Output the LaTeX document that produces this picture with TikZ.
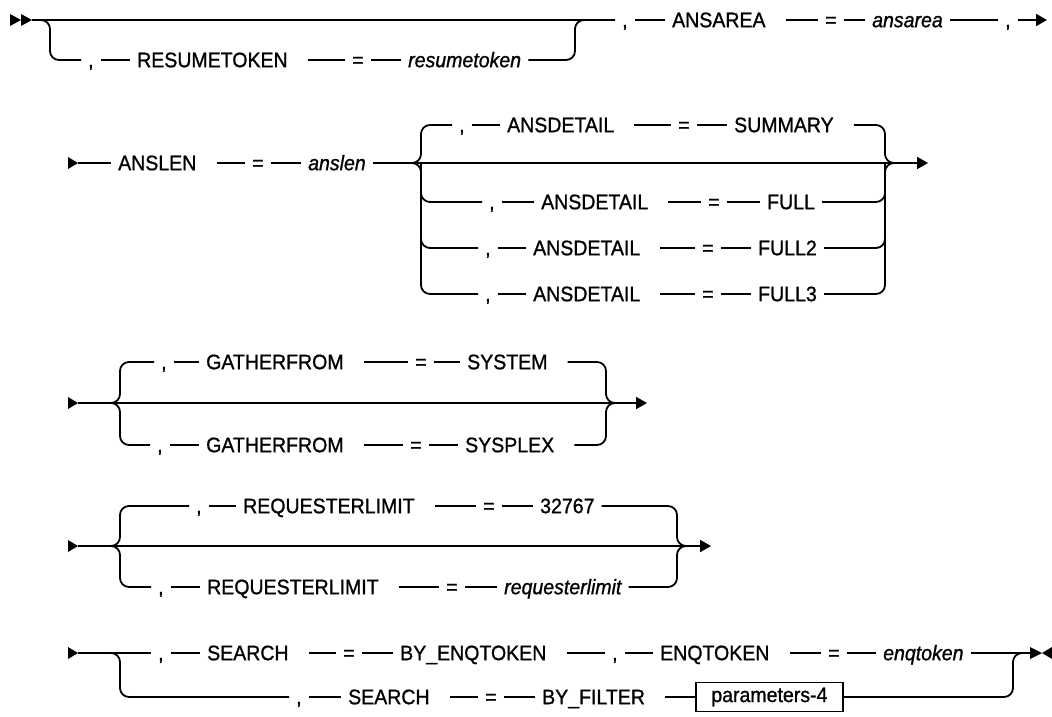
\documentclass[tikz,border=0pt]{standalone}
\usepackage{fontspec}
\setmainfont{Liberation Sans}[FakeBold=1.0,FakeStretch=0.93]
\usetikzlibrary{arrows.meta}

\tikzset{
  rail/.style={line width=1.8pt, rounded corners=9pt},
  endarrow/.style={-{Triangle[length=11pt,width=12pt]}},
  tok/.style={font=\fontsize{21}{24}\selectfont, inner xsep=7pt, inner ysep=0pt,
    text height=14.4pt, text depth=0pt, anchor=west, xshift=-7pt},
  kw/.style={tok, execute at end node={\hspace{13pt}}},
  vname/.style={tok, font=\fontsize{21}{24}\selectfont\itshape},
  parm/.style={draw, line width=1.8pt, font=\fontsize{21}{24}\selectfont, inner xsep=8pt,
    inner ysep=0pt, minimum height=29pt, minimum width=147pt, anchor=west}
}

\begin{document}
\begin{tikzpicture}[x=1pt,y=-1pt]
      \fill[white] (0,0) rectangle (1052,717);
      % row 1: resumetoken / ansarea
      \fill (10,14) -- (21,20) -- (10,26) -- cycle;
      \fill (21,14) -- (32,20) -- (21,26) -- cycle;
      \coordinate (s1) at (32,20);
      \coordinate (b1) at (50,20);
      \coordinate (m1) at (575,20);
      \coordinate (e1) at (1047,20);
      \node[tok] (rc) at (88,60) {,};
      \node[kw] (rk) at (137,60) {RESUMETOKEN};
      \node[tok] (req) at (352,60) {=};
      \node[vname] (rv) at (408,60) {resumetoken};
      \node[tok] (ac) at (622,20) {,};
      \node[kw] (ak) at (672,20) {ANSAREA};
      \node[tok] (aeq) at (825,20) {=};
      \node[vname] (av) at (872,20) {ansarea};
      \node[tok] (ac2) at (1005,20) {,};
      \draw[rail] (s1) -- (ac) -- (ak) -- (aeq) -- (av) -- (ac2);
      \draw[rail,endarrow] (ac2) -- (e1);
      \draw[rail] (s1) -- (b1) |- (rc);
      \draw[rail] (rc) -- (rk) -- (req) -- (rv);
      \draw[rail] (rv) -| (m1) -- (ac);

      % row 2: anslen / ansdetail
      \fill (68,157) -- (78,163) -- (68,169) -- cycle;
      \coordinate (s2) at (78,163);
      \coordinate (l2) at (412,163);
      \coordinate (bl2) at (421,163);
      \coordinate (br2) at (885,163);
      \coordinate (r2) at (893,163);
      \coordinate (e2) at (928,163);
      \node[kw] (lk) at (118,163) {ANSLEN};
      \node[tok] (leq) at (252,163) {=};
      \node[vname] (lv) at (308,163) {anslen};
      \node[tok] (d1c) at (459,125) {,};
      \node[kw] (d1k) at (507,125) {ANSDETAIL};
      \node[tok] (d1e) at (678,125) {=};
      \node[kw] (d1v) at (734,125) {SUMMARY};
      \node[tok] (d2c) at (489,202) {,};
      \node[kw] (d2k) at (541,202) {ANSDETAIL};
      \node[tok] (d2e) at (708,202) {=};
      \node[tok] (d2v) at (767,202) {FULL};
      \node[tok] (d3c) at (485,248) {,};
      \node[kw] (d3k) at (533,248) {ANSDETAIL};
      \node[tok] (d3e) at (702,248) {=};
      \node[tok] (d3v) at (758,248) {FULL2};
      \node[tok] (d4c) at (485,294) {,};
      \node[kw] (d4k) at (533,294) {ANSDETAIL};
      \node[tok] (d4e) at (702,294) {=};
      \node[tok] (d4v) at (758,294) {FULL3};
      \draw[rail] (s2) -- (lk) -- (leq) -- (lv) -- (l2) -- (r2);
      \draw[rail,endarrow] (r2) -- (e2);
      \draw[rail] (d1c) -- (d1k) -- (d1e) -- (d1v);
      \draw[rail] (d2c) -- (d2k) -- (d2e) -- (d2v);
      \draw[rail] (d3c) -- (d3k) -- (d3e) -- (d3v);
      \draw[rail] (d4c) -- (d4k) -- (d4e) -- (d4v);
      \draw[rail] (d1c) -| (bl2) -- (l2);
      \draw[rail] (d4c) -| (bl2) -- (l2);
      \draw[rail] (d2c) -| (bl2);
      \draw[rail] (d3c) -| (bl2);
      \draw[rail] (d1v) -| (br2) -- (r2);
      \draw[rail] (d4v) -| (br2) -- (r2);
      \draw[rail] (d2v) -| (br2);
      \draw[rail] (d3v) -| (br2);

      % row 3: gatherfrom
      \fill (68,397) -- (78,403) -- (68,409) -- cycle;
      \coordinate (s3) at (78,403);
      \coordinate (l3) at (112,403);
      \coordinate (bl3) at (120,403);
      \coordinate (br3) at (606,403);
      \coordinate (r3) at (614,403);
      \coordinate (e3) at (647,403);
      \node[tok] (g1c) at (161,362) {,};
      \node[kw] (g1k) at (206,362) {GATHERFROM};
      \node[tok] (g1e) at (415,362) {=};
      \node[kw] (g1v) at (467,362) {SYSTEM};
      \node[tok] (g2c) at (157,445) {,};
      \node[kw] (g2k) at (206,445) {GATHERFROM};
      \node[tok] (g2e) at (410,445) {=};
      \node[kw] (g2v) at (465,445) {SYSPLEX};
      \draw[rail] (s3) -- (l3) -- (r3);
      \draw[rail,endarrow] (r3) -- (e3);
      \draw[rail] (g1c) -- (g1k) -- (g1e) -- (g1v);
      \draw[rail] (g2c) -- (g2k) -- (g2e) -- (g2v);
      \draw[rail] (g1c) -| (bl3) -- (l3);
      \draw[rail] (g2c) -| (bl3) -- (l3);
      \draw[rail] (g1v) -| (br3) -- (r3);
      \draw[rail] (g2v) -| (br3) -- (r3);

      % row 4: requesterlimit
      \fill (68,540) -- (78,546) -- (68,552) -- cycle;
      \coordinate (s4) at (78,546);
      \coordinate (l4) at (112,546);
      \coordinate (bl4) at (120,546);
      \coordinate (br4) at (677,546);
      \coordinate (r4) at (685,546);
      \coordinate (e4) at (711,546);
      \node[tok] (q1c) at (196,506) {,};
      \node[kw] (q1k) at (243,506) {REQUESTERLIMIT};
      \node[tok] (q1e) at (483,506) {=};
      \node[tok] (q1v) at (540,506) {32767};
      \node[tok] (q2c) at (158,587) {,};
      \node[kw] (q2k) at (207,587) {REQUESTERLIMIT};
      \node[tok] (q2e) at (446,587) {=};
      \node[vname] (q2v) at (504,587) {requesterlimit};
      \draw[rail] (s4) -- (l4) -- (r4);
      \draw[rail,endarrow] (r4) -- (e4);
      \draw[rail] (q1c) -- (q1k) -- (q1e) -- (q1v);
      \draw[rail] (q2c) -- (q2k) -- (q2e) -- (q2v);
      \draw[rail] (q1c) -| (bl4) -- (l4);
      \draw[rail] (q2c) -| (bl4) -- (l4);
      \draw[rail] (q1v) -| (br4) -- (r4);
      \draw[rail] (q2v) -| (br4) -- (r4);

      % row 5: search
      \fill (68,647) -- (78,653) -- (68,659) -- cycle;
      \coordinate (s5) at (78,653);
      \coordinate (b5) at (120,653);
      \coordinate (m5) at (1013,653);
      \coordinate (e5) at (1030,653);
      \node[tok] (t5c) at (158,653) {,};
      \node[kw] (t5k) at (207,653) {SEARCH};
      \node[tok] (t5e) at (343,653) {=};
      \node[kw] (t5v) at (400,653) {BY\_ENQTOKEN};
      \node[tok] (t5c2) at (612,653) {,};
      \node[kw] (t5k2) at (660,653) {ENQTOKEN};
      \node[tok] (t5e2) at (828,653) {=};
      \node[vname] (t5v2) at (883,653) {enqtoken};
      \node[tok] (u5c) at (296,697) {,};
      \node[kw] (u5k) at (348,697) {SEARCH};
      \node[tok] (u5e) at (485,697) {=};
      \node[kw] (u5v) at (542,697) {BY\_FILTER};
      \node[parm] (p4) at (695,697) {parameters-4};
      \draw[rail] (s5) -- (t5c) -- (t5k) -- (t5e) -- (t5v) -- (t5c2) -- (t5k2) -- (t5e2) -- (t5v2) -- (e5);
      \draw[rail] (s5) -- (b5) |- (u5c);
      \draw[rail] (u5c) -- (u5k) -- (u5e) -- (u5v) -- (p4);
      \draw[rail] (p4) -| (m5) -- (e5);
      \fill (1030,647) -- (1042,653) -- (1030,659) -- cycle;
      \fill (1052,647) -- (1042,653) -- (1052,659) -- cycle;
\end{tikzpicture}
\end{document}
